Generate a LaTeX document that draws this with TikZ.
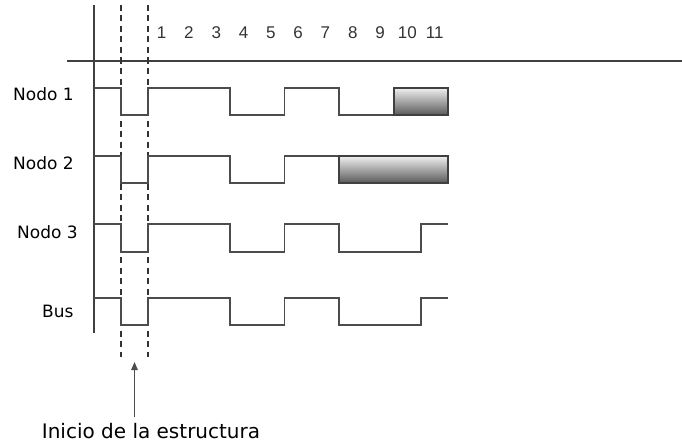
\documentclass[tikz,border=0pt]{standalone}
\usepackage{fontspec}
\setmainfont{DejaVu Sans}
\newfontfamily\digitfont{Liberation Sans}
\usetikzlibrary{arrows.meta}

\begin{document}
\begin{tikzpicture}[x=1pt,y=-1pt,
  axis/.style={draw=black!75, line width=1.3pt},
  guide/.style={draw=black!80, line width=1.3pt, dash pattern=on 6pt off 4.5pt},
  signal/.style={draw=black!70, line width=1.7pt, line join=miter},
  busy/.style={draw=black!75, line width=1.7pt, top color=black!6, bottom color=black!65},
  rowlabel/.style={anchor=base west, inner sep=0pt, font=\fontsize{17}{20}\selectfont},
  slotnum/.style={anchor=base, inner sep=0pt, font=\digitfont\fontsize{17}{20}\selectfont, text=black!80},
  caption/.style={anchor=base, inner sep=0pt, font=\fontsize{20}{24}\selectfont}]
\useasboundingbox (0,0) rectangle (682,444);

% time axis: slot boundaries
\def\sw{27.3}
\def\ta{94}\def\tb{121}\def\tc{148}
\pgfmathsetmacro\tiii{148+3*\sw}
\pgfmathsetmacro\tv{148+5*\sw}
\pgfmathsetmacro\tvii{148+7*\sw}
\pgfmathsetmacro\tix{148+9*\sw}
\pgfmathsetmacro\tx{148+10*\sw}
\pgfmathsetmacro\txi{148+11*\sw}

% axes
\draw[axis] (94,5) -- (94,333);
\draw[axis] (67,61) -- (682,61);
% start-of-frame window
\draw[guide] (121,5) -- (121,357);
\draw[guide] (148,5) -- (148,357);

% slot numbers
\foreach \i in {1,...,11}
  \node[slotnum] (s\i) at ({148+\sw*(\i-0.5)},39) {\i};

% row labels
\node[rowlabel] (n1) at (13,100) {Nodo 1};
\node[rowlabel] (n2) at (13,169) {Nodo 2};
\node[rowlabel] (n3) at (17,238) {Nodo 3};
\node[rowlabel] (bus) at (42,317) {Bus};

% Nodo 1
\draw[signal] (\ta,88) -- (\tb,88) -- (\tb,115) -- (\tc,115) -- (\tc,88) -- (\tiii,88)
  -- (\tiii,115) -- (\tv,115) -- (\tv,88) -- (\tvii,88) -- (\tvii,115) -- (\tix,115);
\draw[busy] (\tix,88) rectangle (\txi,115);

% Nodo 2
\draw[signal] (\ta,156) -- (\tb,156) -- (\tb,183) -- (\tc,183) -- (\tc,156) -- (\tiii,156)
  -- (\tiii,183) -- (\tv,183) -- (\tv,156) -- (\tvii,156);
\draw[busy] (\tvii,156) rectangle (\txi,183);

% Nodo 3
\draw[signal] (\ta,224) -- (\tb,224) -- (\tb,252) -- (\tc,252) -- (\tc,224) -- (\tiii,224)
  -- (\tiii,252) -- (\tv,252) -- (\tv,224) -- (\tvii,224) -- (\tvii,252) -- (\tx,252)
  -- (\tx,224) -- (\txi,224);

% Bus
\draw[signal] (\ta,298) -- (\tb,298) -- (\tb,325) -- (\tc,325) -- (\tc,298) -- (\tiii,298)
  -- (\tiii,325) -- (\tv,325) -- (\tv,298) -- (\tvii,298) -- (\tvii,325) -- (\tx,325)
  -- (\tx,298) -- (\txi,298);

% caption with pointer
\node[caption] (cap) at (151,438) {Inicio de la estructura};
\coordinate (tip) at (134.5,362);
\coordinate (tail) at (134.5,417);
\draw[draw=black!70, line width=1.3pt, -{Triangle[length=8pt,width=6.5pt]}] (tail) -- (tip);
\end{tikzpicture}
\end{document}
